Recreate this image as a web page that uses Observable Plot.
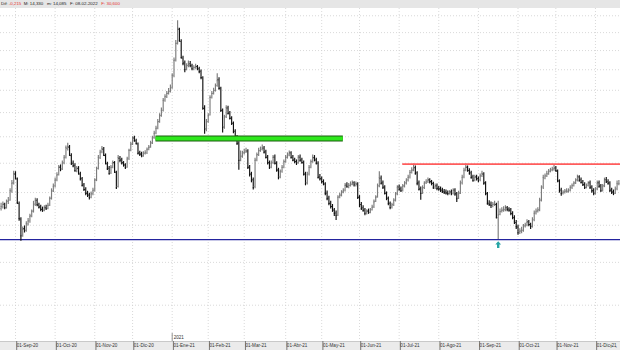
<!DOCTYPE html>
<html><head><meta charset="utf-8">
<script src="https://cdn.jsdelivr.net/npm/d3@7"></script>
<script src="https://cdn.jsdelivr.net/npm/@observablehq/plot@0.6"></script>
<style>
html,body{margin:0;padding:0;background:#fff;}
#hdr{height:8px;background:#e6e6e6;font-family:"Liberation Sans",Arial,sans-serif;font-size:4.4px;line-height:8px;white-space:pre;overflow:hidden;padding-left:1px;}
#chart svg{display:block}
</style></head><body>
<div id="hdr"></div>
<div id="chart"></div>
<script>
// ---- header texts ----
const headerTexts = ["Dif: ", "-0,215", "  M: 14,330   m: 14,085   F: 08-02-2022   ", "F: 30,600"];
const headerColors = ["#222", "#e53030", "#222", "#e53030"];

// ---- calendar ----
const startDate = "2020-08-20";
const holidays = ["2020-12-25", "2021-01-01", "2021-04-02", "2021-04-05"];
const monthNames = ["Ene","Feb","Mar","Abr","May","Jun","Jul","Ago","Sep","Oct","Nov","Dic"];

// ---- OHLC (daily) ----
const open = [8.50,8.55,8.63,8.52,8.72,8.76,9.05,9.32,9.62,9.45,
8.65,8.18,7.72,7.90,7.86,8.04,8.13,8.28,8.42,8.63,
8.75,8.60,8.55,8.47,8.45,8.53,8.50,8.60,8.82,9.05,
9.22,9.42,9.60,9.86,9.80,10.02,10.22,10.55,10.60,10.28,
10.00,9.92,9.72,9.82,9.62,9.46,9.25,9.10,8.98,8.92,
8.85,8.97,9.08,9.42,9.82,10.20,10.42,10.52,10.28,9.98,
9.82,9.66,9.86,10.02,9.68,9.20,10.18,10.12,10.02,9.94,
9.86,10.18,10.48,10.72,10.95,10.84,10.72,10.38,10.34,10.26,
10.36,10.38,10.52,10.60,10.76,10.96,11.15,11.35,11.62,11.88,
12.10,12.55,12.72,12.86,12.96,13.12,13.72,14.50,15.40,16.20,
15.50,14.60,14.35,14.02,14.22,14.30,14.20,14.04,14.12,14.16,
14.05,13.92,13.60,12.18,11.32,11.62,11.90,12.68,12.86,13.00,
13.22,13.50,13.10,12.10,11.40,11.82,12.20,11.98,11.76,11.55,
11.22,10.98,10.75,10.12,10.26,10.38,10.42,10.45,9.86,9.62,
9.42,9.20,10.12,10.32,10.46,10.52,10.56,10.42,10.22,10.02,
9.86,10.02,10.22,10.00,9.76,9.52,9.72,9.86,10.06,10.22,
10.30,10.38,10.22,10.12,10.06,10.02,10.22,10.12,10.02,9.62,
9.32,9.62,9.86,10.06,10.20,10.12,10.00,9.52,9.46,9.36,
9.28,8.98,8.82,8.66,8.56,8.45,8.36,8.30,8.86,8.92,
9.02,9.08,9.24,9.18,9.24,9.27,9.32,9.24,9.28,8.85,
8.62,8.52,8.45,8.36,8.42,8.38,8.46,8.55,8.72,8.86,
9.22,9.48,9.32,9.18,8.98,8.82,8.66,8.55,8.62,8.76,
8.96,9.18,9.12,9.08,9.22,9.32,9.42,9.52,9.68,9.76,
9.84,9.66,9.32,9.12,8.98,9.16,9.32,9.36,9.42,9.36,
9.30,9.15,9.22,9.14,9.12,9.08,9.04,9.02,8.99,8.96,
9.02,8.98,9.08,8.96,8.82,8.98,9.32,9.52,9.76,9.86,
9.74,9.66,9.52,9.42,9.52,9.46,9.42,9.56,9.62,9.32,
8.96,8.66,8.63,8.58,8.63,8.62,8.22,8.32,8.41,8.45,
8.46,8.52,8.48,8.45,8.34,8.22,8.08,7.95,7.80,7.84,
7.86,7.98,8.01,8.10,8.02,7.97,8.16,8.36,8.42,8.46,
8.76,9.18,9.48,9.56,9.62,9.72,9.76,9.79,9.83,9.72,
9.38,9.08,8.98,9.02,9.05,9.04,9.08,9.17,9.23,9.32,
9.42,9.52,9.42,9.34,9.26,9.17,9.24,9.32,9.18,9.06,
8.98,9.12,9.32,9.22,9.08,9.22,9.42,9.36,9.32,9.08,
9.02,8.98,9.12,9.28];
const high = [8.66,8.70,8.66,8.76,8.84,9.12,9.40,9.72,9.70,9.48,
8.70,8.22,7.95,7.98,8.10,8.20,8.32,8.45,8.72,8.82,
8.80,8.66,8.60,8.54,8.58,8.60,8.66,8.86,9.12,9.28,
9.48,9.66,9.92,9.94,10.08,10.28,10.64,10.75,10.66,10.35,
10.08,9.98,9.88,9.88,9.68,9.50,9.30,9.16,9.04,8.98,
9.02,9.14,9.46,9.86,10.28,10.48,10.62,10.58,10.34,10.04,
9.88,9.92,10.08,10.06,9.72,10.28,10.25,10.18,10.06,9.98,
10.22,10.52,10.78,11.00,11.02,10.90,10.76,10.44,10.40,10.42,
10.46,10.56,10.66,10.82,11.02,11.22,11.42,11.70,11.95,12.20,
12.62,12.80,12.95,13.08,13.25,13.80,14.60,15.55,16.70,16.25,
15.60,14.70,14.45,14.30,14.45,14.42,14.28,14.20,14.28,14.22,
14.12,13.98,13.65,12.30,11.70,11.95,12.75,12.95,13.10,13.30,
13.80,13.60,13.15,12.15,11.88,12.30,12.28,12.05,11.82,11.60,
11.28,11.05,10.80,10.45,10.44,10.52,10.55,10.50,9.92,9.68,
9.48,10.18,10.38,10.55,10.60,10.68,10.62,10.48,10.28,10.08,
10.08,10.28,10.30,10.05,9.82,9.76,9.92,10.12,10.28,10.38,
10.45,10.42,10.28,10.18,10.12,10.28,10.30,10.18,10.08,9.68,
9.68,9.92,10.12,10.30,10.28,10.18,10.05,9.60,9.52,9.42,
9.32,9.05,8.88,8.72,8.62,8.50,8.42,8.90,8.98,9.06,
9.12,9.30,9.32,9.30,9.35,9.38,9.36,9.35,9.32,8.90,
8.68,8.58,8.50,8.46,8.48,8.50,8.60,8.76,8.90,9.28,
9.70,9.55,9.38,9.22,9.02,8.86,8.70,8.66,8.80,9.00,
9.22,9.25,9.18,9.26,9.36,9.46,9.58,9.74,9.84,9.97,
9.90,9.70,9.38,9.18,9.22,9.36,9.42,9.48,9.46,9.40,
9.34,9.28,9.28,9.20,9.18,9.14,9.10,9.08,9.05,9.06,
9.08,9.12,9.12,9.00,9.04,9.38,9.58,9.82,9.97,9.90,
9.80,9.72,9.58,9.58,9.58,9.52,9.62,9.72,9.66,9.36,
9.00,8.74,8.70,8.68,8.72,8.66,8.72,8.48,8.52,8.55,
8.58,8.56,8.52,8.50,8.40,8.28,8.14,8.00,7.90,7.94,
8.02,8.06,8.16,8.14,8.06,8.22,8.42,8.48,8.52,8.82,
9.22,9.58,9.62,9.72,9.78,9.82,9.86,9.92,9.88,9.76,
9.42,9.14,9.06,9.10,9.12,9.12,9.22,9.28,9.36,9.46,
9.58,9.56,9.48,9.40,9.32,9.28,9.36,9.38,9.22,9.12,
9.16,9.38,9.38,9.26,9.26,9.48,9.50,9.42,9.36,9.14,
9.08,9.18,9.38,9.40];
const low = [8.42,8.48,8.46,8.48,8.62,8.72,8.98,9.25,9.42,8.62,
8.12,7.55,7.66,7.78,7.80,7.98,8.06,8.22,8.36,8.56,
8.55,8.48,8.40,8.38,8.40,8.44,8.46,8.56,8.76,9.00,
9.15,9.36,9.55,9.70,9.74,9.95,10.15,10.45,10.25,9.92,
9.84,9.68,9.66,9.58,9.38,9.18,9.03,8.90,8.84,8.76,
8.80,8.90,9.02,9.36,9.76,10.14,10.35,10.25,9.94,9.74,
9.58,9.60,9.80,9.64,9.10,9.15,10.02,9.94,9.86,9.78,
9.82,10.10,10.42,10.66,10.78,10.68,10.30,10.25,10.20,10.22,
10.30,10.32,10.46,10.55,10.70,10.90,11.08,11.28,11.55,11.80,
12.02,12.45,12.62,12.78,12.88,13.05,13.60,14.40,15.30,15.45,
14.55,14.20,13.85,13.95,14.10,14.10,13.95,13.95,14.02,13.95,
13.80,13.50,12.10,11.10,11.20,11.55,11.85,12.60,12.78,12.92,
13.15,13.00,12.00,11.15,11.30,11.75,11.90,11.68,11.45,11.12,
10.90,10.66,9.75,10.05,10.18,10.30,10.36,9.78,9.52,9.32,
9.08,9.12,10.05,10.25,10.40,10.45,10.34,10.15,9.94,9.78,
9.80,9.96,9.94,9.68,9.42,9.46,9.65,9.80,10.00,10.15,
10.24,10.15,10.05,9.98,9.92,9.96,10.04,9.96,9.55,9.22,
9.25,9.55,9.80,10.00,10.05,9.94,9.45,9.38,9.28,9.22,
8.90,8.74,8.58,8.48,8.38,8.26,8.14,8.26,8.80,8.86,
8.96,9.02,9.14,9.12,9.18,9.22,9.18,9.18,8.78,8.52,
8.44,8.38,8.28,8.30,8.32,8.34,8.42,8.50,8.68,8.82,
9.16,9.25,9.10,8.92,8.74,8.58,8.46,8.48,8.56,8.70,
8.90,9.04,9.00,9.02,9.15,9.25,9.35,9.45,9.62,9.70,
9.58,9.22,9.05,8.75,8.94,9.10,9.26,9.30,9.28,9.22,
9.10,9.10,9.06,9.04,9.00,8.97,8.94,8.92,8.90,8.92,
8.90,8.92,8.88,8.68,8.78,8.94,9.25,9.46,9.70,9.68,
9.58,9.44,9.34,9.36,9.38,9.32,9.36,9.50,9.24,8.90,
8.60,8.56,8.50,8.52,8.56,8.18,7.60,8.28,8.36,8.38,
8.40,8.40,8.38,8.28,8.16,8.02,7.88,7.72,7.74,7.76,
7.80,7.92,7.96,7.96,7.88,7.92,8.10,8.30,8.36,8.40,
8.70,9.10,9.42,9.50,9.58,9.66,9.70,9.72,9.68,9.32,
8.98,8.88,8.92,8.95,8.98,8.98,9.02,9.10,9.18,9.26,
9.35,9.34,9.28,9.20,9.10,9.12,9.18,9.10,8.98,8.90,
8.92,9.06,9.14,9.00,9.02,9.16,9.30,9.24,9.00,8.94,
8.90,8.94,9.06,9.22];
const close = [8.56,8.62,8.52,8.70,8.74,9.06,9.30,9.64,9.50,8.68,
8.20,7.70,7.88,7.85,8.05,8.12,8.26,8.40,8.65,8.74,
8.62,8.53,8.48,8.44,8.52,8.50,8.59,8.80,9.06,9.20,
9.40,9.58,9.85,9.78,10.00,10.20,10.58,10.62,10.30,10.00,
9.90,9.74,9.80,9.64,9.45,9.23,9.10,8.97,8.90,8.84,
8.95,9.06,9.40,9.80,10.21,10.40,10.55,10.30,10.00,9.80,
9.64,9.85,10.00,9.70,9.16,10.21,10.10,10.00,9.92,9.85,
10.15,10.47,10.70,10.93,10.85,10.74,10.36,10.32,10.28,10.35,
10.39,10.50,10.58,10.75,10.95,11.13,11.33,11.60,11.85,12.09,
12.53,12.70,12.85,12.95,13.09,13.70,14.47,15.38,16.30,15.55,
14.62,14.31,14.00,14.20,14.31,14.21,14.05,14.11,14.15,14.06,
13.90,13.61,12.20,11.30,11.60,11.87,12.67,12.85,12.99,13.20,
13.46,13.09,12.09,11.37,11.80,12.22,11.96,11.75,11.53,11.20,
10.97,10.74,10.10,10.25,10.36,10.40,10.47,9.85,9.60,9.40,
9.16,10.10,10.30,10.47,10.50,10.58,10.40,10.21,10.00,9.85,
10.00,10.21,10.00,9.75,9.50,9.70,9.85,10.05,10.21,10.30,
10.36,10.20,10.10,10.05,10.00,10.21,10.10,10.03,9.60,9.30,
9.60,9.85,10.05,10.21,10.10,10.00,9.50,9.45,9.35,9.30,
8.97,8.80,8.65,8.55,8.44,8.35,8.29,8.84,8.90,9.00,
9.06,9.23,9.20,9.23,9.28,9.30,9.25,9.30,8.84,8.60,
8.50,8.44,8.35,8.40,8.38,8.45,8.53,8.70,8.84,9.20,
9.50,9.30,9.16,8.97,8.80,8.65,8.53,8.60,8.74,8.95,
9.16,9.10,9.06,9.20,9.30,9.40,9.50,9.67,9.75,9.85,
9.64,9.30,9.10,8.97,9.15,9.30,9.35,9.40,9.35,9.30,
9.16,9.20,9.13,9.10,9.06,9.03,9.00,8.98,8.97,9.00,
8.97,9.06,8.95,8.80,8.97,9.30,9.50,9.74,9.85,9.75,
9.64,9.50,9.40,9.50,9.45,9.40,9.55,9.64,9.30,8.97,
8.65,8.62,8.59,8.62,8.65,8.23,8.30,8.40,8.44,8.47,
8.50,8.47,8.44,8.35,8.23,8.10,7.96,7.79,7.82,7.85,
7.96,8.00,8.08,8.02,7.96,8.15,8.35,8.40,8.44,8.74,
9.16,9.50,9.55,9.64,9.70,9.74,9.78,9.81,9.74,9.40,
9.06,8.97,9.00,9.03,9.05,9.06,9.16,9.22,9.30,9.40,
9.50,9.40,9.33,9.25,9.16,9.22,9.30,9.16,9.05,8.97,
9.10,9.30,9.20,9.06,9.20,9.40,9.35,9.30,9.06,9.00,
8.97,9.10,9.30,9.30];

// ---- grid & annotations ----
const gridPrices = [6,7,8,9,10,11,12,13,14,15,16,17];
const supportLevel = 7.60;
const resistanceLevel = 9.97, resistanceFrom = "2021-07-05";
const greenLevel = 10.93, greenFrom = "2020-12-18", greenTo = "2021-05-19";
const markerDate = "2021-09-16";
const yearLabel = "2021";

// build trading dates
const dates = [];
{
  const d = new Date(startDate + "T00:00:00Z");
  while (dates.length < close.length) {
    const s = d.toISOString().slice(0,10);
    const wd = d.getUTCDay();
    if (wd !== 0 && wd !== 6 && !holidays.includes(s)) dates.push(s);
    d.setUTCDate(d.getUTCDate() + 1);
  }
}
const idx = s => dates.indexOf(s);
const bars = close.map((c, i) => ({i, open: open[i], high: high[i], low: low[i], close: c}));
const monthTicks = [];
const monthLabel = new Map();
for (let i = 1; i < dates.length; i++) {
  if (dates[i].slice(5,7) !== dates[i-1].slice(5,7)) {
    monthTicks.push(i);
    const m = +dates[i].slice(5,7) - 1;
    monthLabel.set(i, "01-" + monthNames[m] + "-" + dates[i].slice(2,4));
  }
}
const yearIdx = dates.findIndex(s => s.startsWith(yearLabel));

// header
const hdr = document.getElementById("hdr");
headerTexts.forEach((t, k) => {
  const sp = document.createElement("span");
  sp.textContent = t; sp.style.color = headerColors[k];
  hdr.appendChild(sp);
});

const upC = "#7c7c7c", dnC = "#101010";
const col = d => d.close >= d.open ? upC : dnC;

const arrow = {
  draw(ctx, size) {
    const r = Math.sqrt(size / Math.PI);
    ctx.moveTo(0, -r);
    ctx.lineTo(0.85 * r, 0);
    ctx.lineTo(0.35 * r, 0);
    ctx.lineTo(0.35 * r, r);
    ctx.lineTo(-0.35 * r, r);
    ctx.lineTo(-0.35 * r, 0);
    ctx.lineTo(-0.85 * r, 0);
    ctx.closePath();
  }
};

const chart = Plot.plot({
  width: 620, height: 342,
  marginTop: 0, marginLeft: 0, marginRight: 0, marginBottom: 9,
  style: {
    background: "linear-gradient(to bottom, #fff 333px, #c9c9c9 333px, #c9c9c9 334px, #ebebeb 334px)",
    fontFamily: "'Liberation Sans', Arial, sans-serif",
    fontSize: "4.6px",
    color: "#333",
    overflow: "hidden"
  },
  x: {type: "linear", domain: [-0.33, 343.9], range: [0, 620], axis: null},
  y: {type: "log", domain: [5.266, 17.45], range: [333, 0], axis: null},
  marks: [
    Plot.ruleY(gridPrices, {y: d => d, stroke: "#cfcfcf", strokeDasharray: "1,2", strokeWidth: 0.8}),
    Plot.ruleX(monthTicks, {x: d => d, stroke: "#cfcfcf", strokeDasharray: "1,2", strokeWidth: 0.8}),
    Plot.ruleY([supportLevel], {y: d => d, stroke: "#23239e", strokeWidth: 1.2}),
    Plot.ruleX(bars, {x: "i", y1: "low", y2: "high", stroke: col, strokeWidth: 1.15}),
    Plot.ruleY(bars, {y: "open", x1: d => d.i - 0.6, x2: d => d.i, stroke: col, strokeWidth: 0.9}),
    Plot.ruleY(bars, {y: "close", x1: d => d.i, x2: d => d.i + 0.6, stroke: col, strokeWidth: 0.9}),
    Plot.ruleY([greenLevel], {y: d => d, x1: idx(greenFrom), x2: idx(greenTo), stroke: "#1d5c10", strokeWidth: 6}),
    Plot.ruleY([greenLevel], {y: d => d, x1: idx(greenFrom), x2: idx(greenTo), stroke: "#2ee81c", strokeWidth: 4}),
    Plot.ruleY([resistanceLevel], {y: d => d, x1: idx(resistanceFrom), x2: 343.9, stroke: "#ff5c5c", strokeWidth: 1.6}),
    Plot.dot([idx(markerDate)], {x: d => d, y: d => low[d], dy: 5, r: 3.4, symbol: arrow, fill: "#27a5a5", stroke: "none"}),
    Plot.ruleX([yearIdx], {x: d => d, insetTop: 325, stroke: "#777", strokeWidth: 0.8}),
    Plot.text([yearIdx], {x: d => d, frameAnchor: "bottom", text: () => yearLabel, dy: -4, dx: 1.5, textAnchor: "start", lineAnchor: "middle", fill: "#333"}),
    Plot.axisX({ticks: monthTicks, tickFormat: i => monthLabel.get(i), tickSize: 9, tickPadding: -7, textAnchor: "start", dx: 1.2, stroke: "#777", fill: "#333"})
  ]
});
document.getElementById("chart").appendChild(chart);
</script>
</body></html>
